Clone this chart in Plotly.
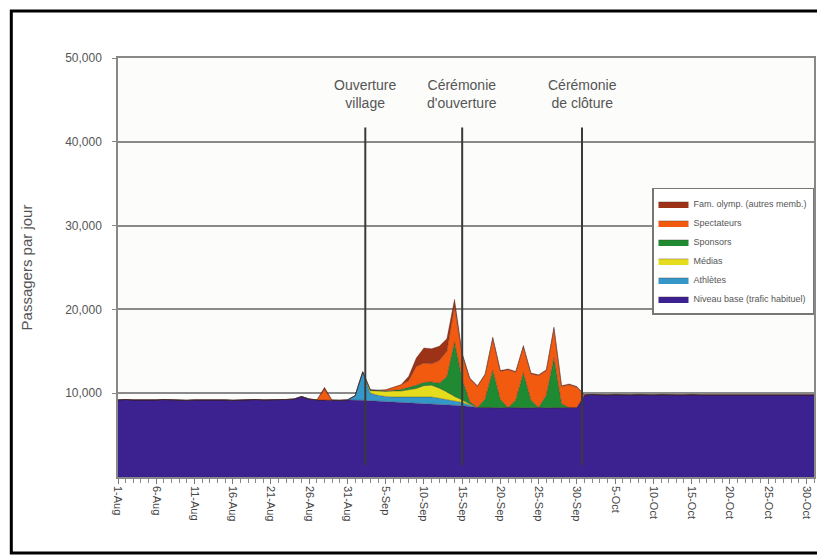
import pandas as pd
import plotly.graph_objects as go

# ---- data (daily, 1 Aug 2000 .. 31 Oct 2000) ----
dates = pd.date_range("2000-08-01", "2000-10-31", freq="D")

base = [
    # Aug 1-31
    9200, 9250, 9200, 9200, 9150, 9200, 9250, 9200, 9200, 9150,
    9200, 9200, 9250, 9200, 9200, 9150, 9200, 9200, 9250, 9200,
    9200, 9200, 9250, 9300, 9600, 9300, 9200, 9200, 9150, 9150, 9200,
    # Sep 1-30
    9200, 9150, 9100, 9050, 9000, 8950, 8900, 8900, 8850, 8800,
    8750, 8700, 8650, 8600, 8500, 8400, 8300, 8300, 8250, 8250,
    8300, 8250, 8250, 8250, 8300, 8250, 8250, 8250, 8300, 8300,
    # Oct 1-31
    9800, 9850, 9800, 9800, 9850, 9800, 9800, 9850, 9800, 9800,
    9850, 9800, 9800, 9800, 9850, 9800, 9800, 9850, 9800, 9800,
    9850, 9800, 9800, 9800, 9850, 9800, 9800, 9850, 9800, 9800, 9800,
]
athletes = [0] * 31 + [
    500, 3400, 900, 700, 600, 600, 650, 700, 700, 800,
    800, 700, 600, 500, 400, 200, 0, 0, 0, 0,
    0, 0, 0, 0, 0, 0, 0, 0, 0, 0,
] + [0] * 31
medias = [0] * 31 + [
    0, 0, 300, 500, 600, 700, 700, 800, 1000, 1300,
    1400, 1200, 900, 500, 300, 100, 0, 0, 0, 0,
    0, 0, 0, 0, 0, 0, 0, 0, 0, 0,
] + [0] * 31
sponsors = [0] * 31 + [
    0, 0, 100, 100, 100, 100, 200, 300, 400, 400,
    400, 600, 1800, 6500, 2500, 300, 0, 1000, 4500, 1000,
    0, 900, 4200, 900, 0, 1500, 6000, 500, 0, 0,
] + [0] * 31
spectateurs = [0] * 27 + [1200, 0, 0, 0] + [
    0, 0, 0, 0, 100, 350, 550, 800, 2250, 2300,
    2150, 2700, 3050, 4300, 2800, 2700, 2500, 2900, 3750, 3350,
    4500, 3350, 3050, 3150, 3800, 2950, 3450, 2050, 2700, 2400,
] + [0] * 31
fam_olymp = [0] * 27 + [300, 0, 0, 0] + [
    0, 0, 0, 0, 0, 0, 0, 500, 1000, 1800,
    1800, 1700, 1500, 800, 300, 100, 100, 100, 200, 100,
    100, 100, 200, 100, 100, 100, 200, 100, 100, 100,
] + [0] * 31

series_names = [
    "Niveau base (trafic habituel)",
    "Athlètes",
    "Médias",
    "Sponsors",
    "Spectateurs",
    "Fam. olymp. (autres memb.)",
]
series_values = [base, athletes, medias, sponsors, spectateurs, fam_olymp]
series_colors = ["#3c2290", "#3497c8", "#e6dc1e", "#1f8a32", "#f25a0f", "#9c3216"]

tick_dates = pd.date_range("2000-08-01", "2000-10-30", freq="5D")
tick_labels = [
    "1-Aug", "6-Aug", "11-Aug", "16-Aug", "21-Aug", "26-Aug", "31-Aug",
    "5-Sep", "10-Sep", "15-Sep", "20-Sep", "25-Sep", "30-Sep",
    "5-Oct", "10-Oct", "15-Oct", "20-Oct", "25-Oct", "30-Oct",
]
y_ticks = [10000, 20000, 30000, 40000, 50000]
y_tick_labels = ["10,000", "20,000", "30,000", "40,000", "50,000"]

event_dates = ["2000-09-02 08:00", "2000-09-15", "2000-09-30 16:00"]
event_labels = ["Ouverture<br>village", "Cérémonie<br>d'ouverture", "Cérémonie<br>de clôture"]

FONT = "Liberation Sans, Arial, sans-serif"

fig = go.Figure()
for name, vals, col in zip(series_names, series_values, series_colors):
    fig.add_trace(go.Scatter(
        x=dates, y=vals, name=name, mode="lines",
        stackgroup="one", fillcolor=col,
        line=dict(color="rgba(60,30,30,0.55)", width=0.6),
        hoverinfo="x+y+name",
    ))

shapes = []
annotations = []
for d, lab in zip(event_dates, event_labels):
    shapes.append(dict(type="line", xref="x", yref="y", x0=d, x1=d,
                       y0=1400, y1=41700, line=dict(color="#3a3a3a", width=2),
                       layer="above"))
    annotations.append(dict(x=d, y=45700, xref="x", yref="y", text=lab,
                            showarrow=False, yanchor="middle",
                            font=dict(family=FONT, size=14, color="#555555")))

# outer black frame
shapes.append(dict(type="rect", xref="paper", yref="paper",
                   x0=-0.1533, x1=1.0086, y0=-0.1814, y1=1.1122,
                   line=dict(color="black", width=3), layer="below"))

# the page adds an 8px body margin, so the figure is sized 8px smaller
fig.update_layout(
    width=817, height=552,
    margin=dict(l=110, r=9, t=50, b=83),
    paper_bgcolor="#ffffff",
    plot_bgcolor="#fcfcfa",
    font=dict(family=FONT, color="#555555"),
    showlegend=True,
    legend=dict(
        x=1.0, y=0.69, xanchor="right", yanchor="top",
        bgcolor="white", bordercolor="#777777", borderwidth=1.5,
        font=dict(family=FONT, size=9, color="#555555"),
        traceorder="reversed", tracegroupgap=0,
    ),
    shapes=shapes,
    annotations=annotations,
)
fig.update_xaxes(
    type="date",
    range=["2000-08-01", "2000-10-31"],
    tickvals=tick_dates, ticktext=tick_labels,
    tickangle=90,
    tickfont=dict(family=FONT, size=11, color="#444444"),
    ticks="outside", ticklen=5, tickcolor="#777777",
    minor=dict(ticks="outside", ticklen=4, dtick=86400000, tickcolor="#888888", showgrid=False),
    showgrid=False,
    showline=True, linecolor="#888888", linewidth=1.5, mirror=True,
    zeroline=False,
)
fig.update_yaxes(
    range=[0, 50000],
    tickvals=y_ticks, ticktext=y_tick_labels,
    tickfont=dict(family=FONT, size=12, color="#555555"),
    ticklabelstandoff=8,
    showgrid=True, gridcolor="#8a8a8a", gridwidth=1.5,
    showline=True, linecolor="#888888", linewidth=1.5, mirror=True,
    ticks="outside", ticklen=4, tickcolor="#888888",
    zeroline=False,
    title=dict(text="Passagers par jour", font=dict(family=FONT, size=15, color="#555555"), standoff=29),
)

fig.write_html("out.html")
